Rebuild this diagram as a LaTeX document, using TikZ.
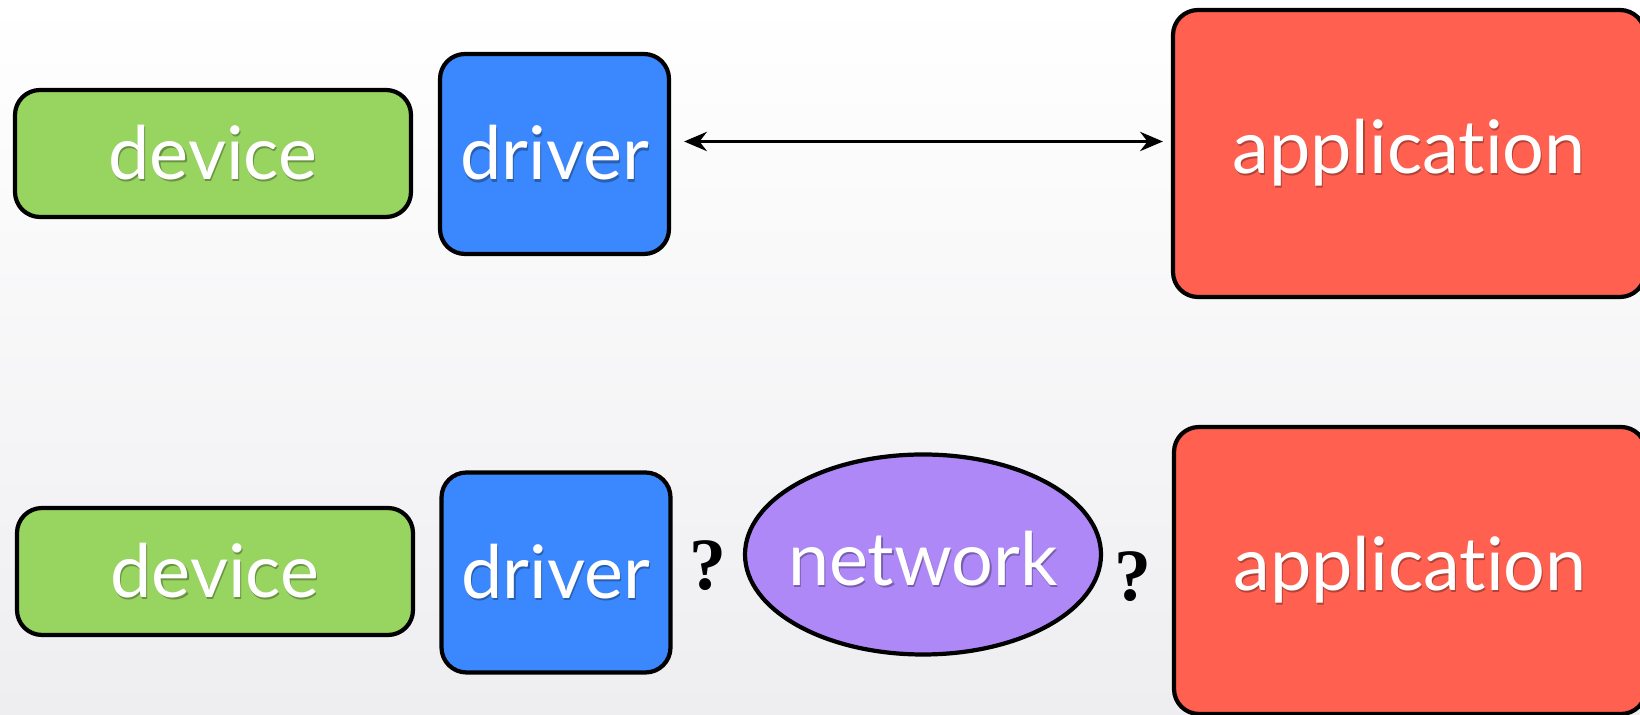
\documentclass[tikz,border=0pt]{standalone}
\usepackage{fontspec}
\setsansfont{Lato}[Ligatures=NoCommon]
\newfontfamily\qfont{Liberation Serif}
\usetikzlibrary{arrows.meta,shapes.geometric,positioning}
\definecolor{devgreen}{RGB}{152,212,96}
\definecolor{drvblue}{RGB}{59,135,253}
\definecolor{appred}{RGB}{255,96,80}
\definecolor{netpurple}{RGB}{175,136,248}
\definecolor{bggray}{RGB}{238,238,241}
% white label with a darker copy a little below it
\newcommand{\shtext}[2]{\makebox[0pt][l]{\hspace{0.015em}\raisebox{-0.03em}{\color{#1}#2}}#2}

\begin{document}
\begin{tikzpicture}[>={Stealth[length=13pt,width=11pt]},
  lbl/.style={draw=black,line width=2.4pt,rounded corners=0.5cm,text=white,
    font=\sffamily\fontsize{42}{50}\selectfont,inner sep=0pt},
  devbox/.style={lbl,fill=devgreen,minimum width=7.92cm,minimum height=2.54cm},
  drvbox/.style={lbl,fill=drvblue,minimum width=4.58cm,minimum height=4cm},
  appbox/.style={lbl,fill=appred,minimum width=9.44cm,minimum height=5.74cm},
  netnode/.style={lbl,ellipse,fill=netpurple,minimum width=7.12cm,minimum height=4cm},
  qmark/.style={font=\qfont\bfseries\fontsize{42}{50}\selectfont}]
  \useasboundingbox (0,0) rectangle (32.8,14.3);
  \shade[top color=white,bottom color=bggray] (0,0) rectangle (32.8,14.3);

  % direct link
  \node[devbox] (dev1) at (4.26,11.23) {\shtext{devgreen!70!black}{device}};
  \node[drvbox] (drv1) at (11.09,11.22) {\shtext{drvblue!70!black}{driver}};
  \node[appbox] (app1) at (28.18,11.23) {\shtext{appred!70!black}{application}};
  \draw[<->,line width=1.5pt,shorten <=0.26cm,shorten >=0.16cm]
    ([yshift=0.25cm]drv1.east) -- ([yshift=0.25cm]drv1.east -| app1.west);

  % across the network
  \node[devbox] (dev2) at (4.3,2.87) {\shtext{devgreen!70!black}{device}};
  \node[drvbox] (drv2) at (11.12,2.85) {\shtext{drvblue!70!black}{driver}};
  \node[netnode] (net) at (18.46,3.21)
    {\makebox[0pt]{\raisebox{-0.42em}[0pt][0pt]{\shtext{netpurple!70!black}{network}}}};
  \node[appbox] (app2) at (28.2,2.89) {\shtext{appred!70!black}{application}};
  \node[qmark] (q1) at (14.16,2.98) {?};
  \node[qmark] (q2) at (22.66,2.76) {?};
\end{tikzpicture}
\end{document}
